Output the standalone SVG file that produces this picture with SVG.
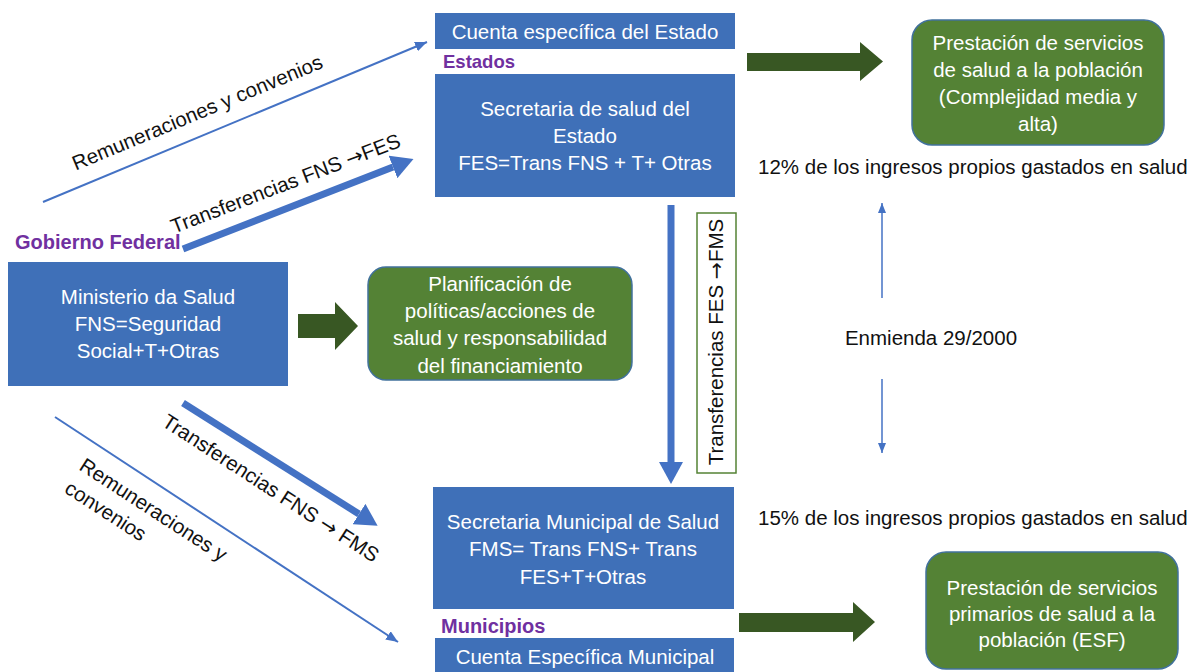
<svg xmlns="http://www.w3.org/2000/svg" width="1191" height="672" viewBox="0 0 1191 672">
<style>
.box{fill:#3F70B8;}
.gbox{fill:#548235;stroke:#41719C;stroke-width:1.5;}
.t{font-family:"Liberation Sans","DejaVu Sans",sans-serif;font-size:20.5px;}
.ar{font-family:"DejaVu Sans",sans-serif;}
.w{fill:#fff;text-anchor:middle;}
.k{fill:#111;}
.lbl{fill:#7030A0;font-weight:bold;font-size:20px;}
.thin{stroke:#4472C4;stroke-width:2;fill:none;marker-end:url(#thinHead);}
.thin2{stroke:#4472C4;stroke-width:1.5;fill:none;marker-end:url(#thinHead2);}
.thick{stroke:#4472C4;stroke-width:7;fill:none;marker-end:url(#thickHead);}
.garrow{fill:#385723;}
</style>
<defs>
<marker id="thinHead" markerUnits="userSpaceOnUse" markerWidth="12" markerHeight="10" refX="12" refY="5" orient="auto"><path d="M0,0 L12,5 L0,10 z" fill="#4472C4"/></marker>
<marker id="thinHead2" markerUnits="userSpaceOnUse" markerWidth="10" markerHeight="8" refX="10" refY="4" orient="auto"><path d="M0,0 L10,4 L0,8 z" fill="#4472C4"/></marker>
<marker id="thickHead" markerUnits="userSpaceOnUse" markerWidth="22" markerHeight="24" refX="0" refY="12" orient="auto"><path d="M0,0 L22,12 L0,24 z" fill="#4472C4"/></marker>
</defs>
<rect width="1191" height="672" fill="#fff"/>

<g id="connectors">
<line class="thin" x1="43" y1="202" x2="427" y2="42"/>
<line class="thick" x1="183" y1="249" x2="393" y2="167"/>
<line class="thin" x1="55" y1="417" x2="398" y2="642"/>
<line class="thick" x1="183" y1="403" x2="359" y2="514"/>
<line class="thick" x1="671" y1="205" x2="671" y2="462"/>
<line class="thin2" x1="882" y1="298" x2="882" y2="203"/>
<line class="thin2" x1="882" y1="379" x2="882" y2="453"/>
<polygon class="garrow" points="747,53 860,53 860,42 883,61.5 860,81 860,71 747,71"/>
<polygon class="garrow" points="298,314 335,314 335,302 358,326 335,350 335,338 298,338"/>
<polygon class="garrow" points="739,613 853,613 853,602 875,622 853,642 853,632 739,632"/>
<text class="t k" transform="translate(200,119) rotate(-22.6)" text-anchor="middle">Remuneraciones y convenios</text>
<text class="t k" transform="translate(288,190) rotate(-21)" text-anchor="middle">Transferencias FNS <tspan class="ar">→</tspan>FES</text>
<text class="t k" transform="translate(267,494) rotate(33)" text-anchor="middle">Transferencias FNS <tspan class="ar">→</tspan> FMS</text>
<text class="t k" transform="translate(78,469) rotate(33)"><tspan x="0" y="0">Remuneraciones y</tspan><tspan x="0" y="27">convenios</tspan></text>
<g id="fes-fms-label">
<rect x="697" y="213" width="39" height="260" fill="#fff" stroke="#548235" stroke-width="1.5"/>
<text class="t k" transform="translate(723,342) rotate(-90)" text-anchor="middle">Transferencias FES <tspan class="ar">→</tspan>FMS</text>
</g>
<text class="t k" x="931" y="345" text-anchor="middle">Enmienda 29/2000</text>
</g>

<g id="gobierno-federal">
<text class="t lbl" x="15" y="249">Gobierno Federal</text>
</g>
<g id="ministerio">
<rect class="box" x="8" y="262" width="280" height="124"/>
<text class="t w" x="148" y="304">Ministerio da Salud</text>
<text class="t w" x="148" y="331">FNS=Seguridad</text>
<text class="t w" x="148" y="358">Social+T+Otras</text>
</g>
<g id="planificacion">
<rect class="gbox" x="368" y="267" width="264" height="113" rx="18"/>
<text class="t w" x="500" y="291">Planificación de</text>
<text class="t w" x="500" y="318">políticas/acciones de</text>
<text class="t w" x="500" y="345">salud y responsabilidad</text>
<text class="t w" x="500" y="373">del financiamiento</text>
</g>
<g id="cuenta-estado">
<rect class="box" x="435" y="13" width="300" height="36"/>
<text class="t w" x="585" y="39">Cuenta específica del Estado</text>
</g>
<g id="estados">
<text class="t lbl" x="443" y="68" style="font-size:18.5px">Estados</text>
</g>
<g id="secretaria-estado">
<rect class="box" x="435" y="74" width="300" height="123"/>
<text class="t w" x="585" y="116">Secretaria de salud del</text>
<text class="t w" x="585" y="143">Estado</text>
<text class="t w" x="585" y="170">FES=Trans FNS + T+ Otras</text>
</g>
<g id="prestacion-media">
<rect class="gbox" x="912" y="20" width="252" height="125" rx="20"/>
<text class="t w" x="1038" y="50">Prestación de servicios</text>
<text class="t w" x="1038" y="77">de salud a la población</text>
<text class="t w" x="1038" y="104">(Complejidad media y</text>
<text class="t w" x="1038" y="131">alta)</text>
</g>
<g id="pct12">
<text class="t k" x="758" y="174">12% de los ingresos propios gastados en salud</text>
</g>
<g id="pct15">
<text class="t k" x="758" y="525">15% de los ingresos propios gastados en salud</text>
</g>
<g id="secretaria-municipal">
<rect class="box" x="433" y="487" width="301" height="122"/>
<text class="t w" x="583" y="529">Secretaria Municipal de Salud</text>
<text class="t w" x="583" y="556">FMS= Trans FNS+ Trans</text>
<text class="t w" x="583" y="584">FES+T+Otras</text>
</g>
<g id="municipios">
<text class="t lbl" x="441" y="633">Municipios</text>
</g>
<g id="cuenta-municipal">
<rect class="box" x="435" y="638" width="299" height="40"/>
<text class="t w" x="585" y="664">Cuenta Específica Municipal</text>
</g>
<g id="prestacion-primarios">
<rect class="gbox" x="926" y="552" width="252" height="117" rx="20"/>
<text class="t w" x="1052" y="595">Prestación de servicios</text>
<text class="t w" x="1052" y="621">primarios de salud a la</text>
<text class="t w" x="1052" y="647">población (ESF)</text>
</g>
</svg>
